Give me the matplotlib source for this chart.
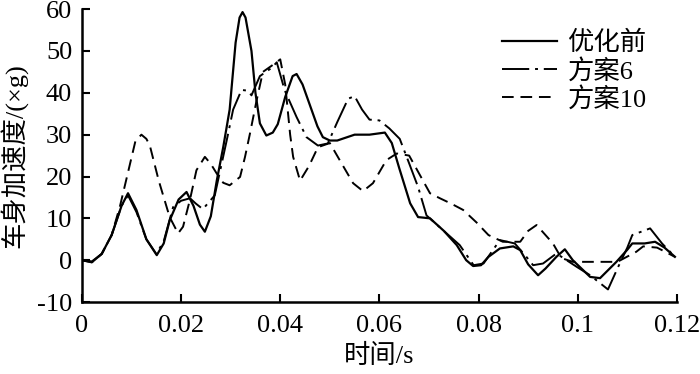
# vehicle body acceleration curves for three design variants
import matplotlib
matplotlib.use('Agg')
import matplotlib.pyplot as plt

plt.rcParams['font.family'] = ['Liberation Serif', 'Noto Sans CJK SC']
plt.rcParams['axes.unicode_minus'] = False

# 优化前 (solid)
t_base = [0, 0.002, 0.004, 0.006, 0.008, 0.0093, 0.011, 0.013, 0.0151, 0.0165,
          0.0177, 0.0195, 0.0211, 0.0225, 0.0238, 0.0248, 0.026, 0.0272, 0.0285, 0.0298,
          0.031, 0.0318, 0.0324, 0.033, 0.0342, 0.035, 0.0359, 0.0372, 0.0385, 0.0395,
          0.041, 0.0425, 0.0433, 0.0445, 0.046, 0.0475, 0.0486, 0.050, 0.0515, 0.053,
          0.055, 0.058, 0.0611, 0.0625, 0.064, 0.0662, 0.0678, 0.0702, 0.073, 0.0756,
          0.0775, 0.0789, 0.0805, 0.082, 0.0843, 0.087, 0.0884, 0.090, 0.092, 0.0935,
          0.0957, 0.0974, 0.099, 0.1025, 0.1045, 0.1078, 0.110, 0.111, 0.1135, 0.1156,
          0.1175, 0.1196]
a_base = [0, -0.5, 1.5, 6, 13, 16, 12, 5, 1.2, 4,
          9.5, 14.5, 16.3, 13, 8.5, 6.8, 10.5, 19, 27, 36,
          52, 58, 59.3, 58, 50, 40, 32.7, 29.8, 30.5, 32.5,
          39, 44, 44.5, 42, 37, 32, 29.4, 28.6, 28.6, 29.2,
          30, 30, 30.5, 28, 22, 13.6, 10.3, 10, 7, 3.6,
          0, -1.4, -1.2, 0.8, 2.8, 3.3, 2.4, -1, -3.6, -2,
          0.8, 2.6, 0, -4, -4.3, -0.4, 2.5, 4, 4, 4.4,
          3, 0.8]

# 方案6 (dash-dot)
t_s6 = [0, 0.002, 0.004, 0.006, 0.008, 0.0093, 0.011, 0.013, 0.015, 0.0165,
        0.0184, 0.020, 0.0218, 0.023, 0.0244, 0.0268, 0.0292, 0.0305, 0.0322, 0.0335,
        0.0342, 0.0359, 0.0383, 0.0393, 0.0409, 0.0433, 0.0453, 0.0476, 0.0496, 0.0515,
        0.0537, 0.055, 0.0565, 0.058, 0.060, 0.062, 0.0641, 0.0655, 0.0678, 0.0695,
        0.0728, 0.0762, 0.079, 0.081, 0.0843, 0.0873, 0.0895, 0.091, 0.093, 0.0957,
        0.0998, 0.1025, 0.1061, 0.108, 0.110, 0.111, 0.1146, 0.117, 0.1196]
a_s6 = [0, -0.3, 1.5, 6, 13, 15.5, 11.5, 5, 1.5, 4.5,
        12.7, 14.2, 14.8, 13.5, 12.2, 15.5, 28.6, 36, 40.7, 40.5,
        39.4, 44, 46, 47.3, 40.6, 34.2, 29.4, 27.4, 27.9, 33,
        38.6, 39.2, 36, 33.6, 33.4, 31.5, 29, 24.7, 17.5, 10.7,
        7.2, 3.6, -1.2, -0.8, 4.8, 4, 1, -1.2, -0.8, 1.6,
        -1.6, -3.6, -7, -2, 3, 6, 7.6, 4, 0.8]

# 方案10 (dashed)
t_s10 = [0, 0.002, 0.004, 0.006, 0.0077, 0.0095, 0.0108, 0.012, 0.013, 0.0137,
         0.0155, 0.0177, 0.0194, 0.0204, 0.0218, 0.0231, 0.0248, 0.026, 0.0272, 0.0285,
         0.0298, 0.0319, 0.0329, 0.0339, 0.0352, 0.0365, 0.0383, 0.040, 0.041, 0.042,
         0.0426, 0.044, 0.0458, 0.0476, 0.050, 0.052, 0.0547, 0.0567, 0.0587, 0.0614,
         0.0635, 0.066, 0.0688, 0.0702, 0.0722, 0.0745, 0.0769, 0.0796, 0.082, 0.0849,
         0.0884, 0.090, 0.0917, 0.095, 0.0967, 0.099, 0.108, 0.1118, 0.1132, 0.116,
         0.1196]
a_s10 = [0, -0.5, 1.5, 6, 13, 22, 28.5, 30, 29, 27.4,
         19, 10.3, 6.4, 8, 14.5, 21.5, 24.7, 23, 20.7, 18.5,
         17.9, 19.9, 24.7, 30.3, 38, 45, 46.5, 48, 42, 30,
         24.7, 19, 22.5, 27, 28, 23.9, 18.4, 16.5, 18.4, 23.9,
         25.5, 25, 19, 16, 14.8, 13.5, 12, 9, 6, 4.4,
         4.4, 7, 8.4, 4, 0.5, -0.4, -0.4, 2, 3.3, 3,
         0.8]

xticks = [0, 0.02, 0.04, 0.06, 0.08, 0.1, 0.12]
xlabels = ['0', '0.02', '0.04', '0.06', '0.08', '0.1', '0.12']
yticks = [-10, 0, 10, 20, 30, 40, 50, 60]

fig = plt.figure(figsize=(7, 3.74), dpi=100)
ax = fig.add_axes([0.117, 0.1925, 0.85, 0.783])

ax.plot(t_base, a_base, color='black', lw=1.6, label='优化前')
ax.plot(t_s6, a_s6, color='black', lw=1.4, linestyle=(0, (14, 3, 1.5, 3)), label='方案6')
ax.plot(t_s10, a_s10, color='black', lw=1.4, linestyle=(0, (6, 3.5)), label='方案10')

ax.set_xlim(0, 0.12)
ax.set_ylim(-10, 60)
ax.set_xticks(xticks)
ax.set_xticklabels(xlabels)
ax.set_yticks(yticks)
ax.tick_params(direction='in', length=6, width=1.5, labelsize=19)
ax.tick_params(axis='x', pad=9)
ax.tick_params(axis='y', pad=7)
for s in ['top', 'right']:
    ax.spines[s].set_visible(False)
for s in ['left', 'bottom']:
    ax.spines[s].set_linewidth(1.8)

ax.set_xlabel('时间/s', fontsize=19, labelpad=5)
ax.set_ylabel('车身加速度/(×g)', fontsize=19, labelpad=6)

ax.legend(loc='upper left', bbox_to_anchor=(0.706, 0.925), frameon=False, fontsize=19,
          handlelength=2.1, handletextpad=0.38, labelspacing=0.12, borderpad=0,
          borderaxespad=0)

fig.savefig('out.png', dpi=100)
